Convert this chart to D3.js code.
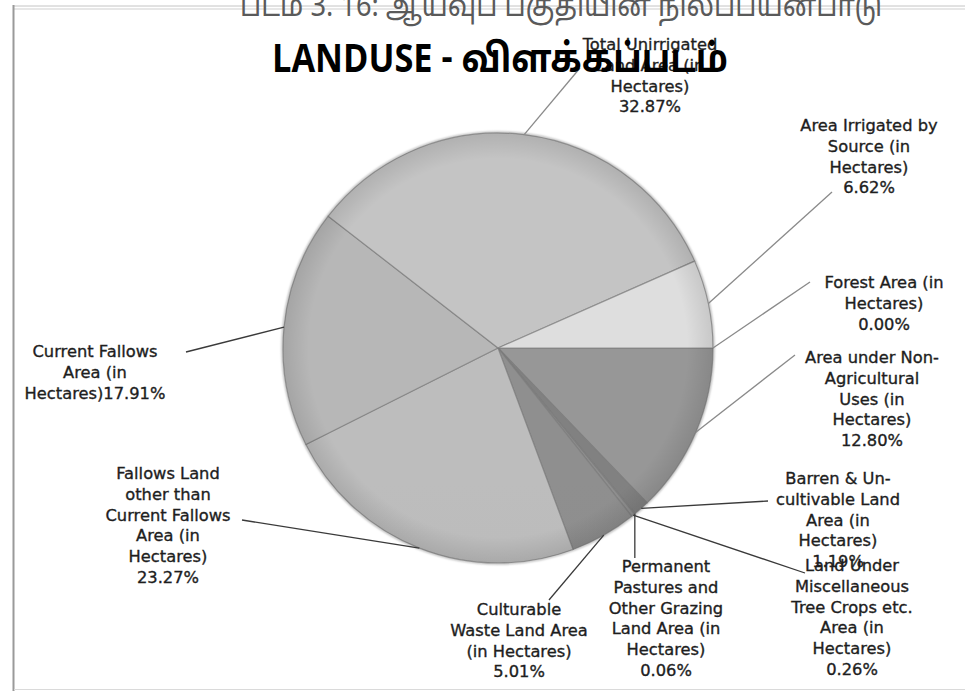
<!DOCTYPE html>
<html>
<head>
<meta charset="utf-8">
<script src="https://cdn.jsdelivr.net/npm/d3@7"></script>
<style>
  html, body { margin: 0; padding: 0; background: #fff; }
  svg { display: block; }
</style>
</head>
<body>
<svg id="chart" width="965" height="691"></svg>
<script>
// ---------- DATA ----------
const categories = [
  "Forest Area (in Hectares)",
  "Area under Non-Agricultural Uses (in Hectares)",
  "Barren & Un-cultivable Land Area (in Hectares)",
  "Permanent Pastures and Other Grazing Land Area (in Hectares)",
  "Land Under Miscellaneous Tree Crops etc. Area (in Hectares)",
  "Culturable Waste Land Area (in Hectares)",
  "Fallows Land other than Current Fallows Area (in Hectares)",
  "Current Fallows Area (in Hectares)",
  "Total Unirrigated Land Area (in Hectares)",
  "Area Irrigated by Source (in Hectares)"
];
const values = [0.00, 12.80, 1.19, 0.06, 0.26, 5.01, 23.27, 17.91, 32.87, 6.62];
const labelLines = [
  ["Forest Area (in", "Hectares)", "{p}"],
  ["Area under Non-", "Agricultural", "Uses (in", "Hectares)", "{p}"],
  ["Barren & Un-", "cultivable  Land", "Area (in", "Hectares)", "{p}"],
  ["Permanent", "Pastures and", "Other Grazing", "Land Area (in", "Hectares)", "{p}"],
  ["Land Under", "Miscellaneous", "Tree Crops etc.", "Area (in", "Hectares)", "{p}"],
  ["Culturable", "Waste Land Area", "(in Hectares)", "{p}"],
  ["Fallows Land", "other than", "Current Fallows", "Area (in", "Hectares)", "{p}"],
  ["Current Fallows", "Area (in", "Hectares){p}"],
  ["Total Unirrigated", "Land Area (in", "Hectares)", "{p}"],
  ["Area Irrigated by", "Source (in", "Hectares)", "{p}"]
];
const chartTitle = "LANDUSE - விளக்கப்படம்";
const figureCaption = "படம் 3. 16: ஆய்வுப் பகுதியின் நிலப்பயன்பாடு";

// ---------- STYLE / LAYOUT ----------
const sliceColors = ["#c8c8c8", "#929292", "#7c7c7c", "#8a8a8a", "#8a8a8a", "#8a8a8a", "#b6b6b6", "#b1b1b1", "#bdbdbd", "#d6d6d6"];
// label anchor (center x, first baseline y) and leader-line end point
const labelLayout = [
  {x: 884, y: 288, ex: 810, ey: 282},
  {x: 872, y: 363, ex: 795, ey: 355},
  {x: 838, y: 484, ex: 768, ey: 501},
  {x: 666, y: 572, ex: null, ey: 558},
  {x: 852, y: 571, ex: 805, ey: 573},
  {x: 519, y: 615, ex: 549, ey: 600},
  {x: 168, y: 479, ex: 242, ey: 520},
  {x: 95,  y: 357, ex: 186, ey: 352},
  {x: 650, y: 50,  ex: 580, ey: 68},
  {x: 869, y: 131, ex: 832, ey: 192}
];
const cx = 498, cy = 348, R = 215;
const lineH = 20.8;

const svg = d3.select("#chart");
const defs = svg.append("defs");

// frame
svg.append("line").attr("x1", 14).attr("x2", 965).attr("y1", 6).attr("y2", 6).attr("stroke", "#c4c4c4").attr("stroke-width", 1);
svg.append("line").attr("x1", 14).attr("x2", 965).attr("y1", 9).attr("y2", 9).attr("stroke", "#cfcfcf").attr("stroke-width", 1);
svg.append("line").attr("x1", 13.5).attr("x2", 13.5).attr("y1", 5).attr("y2", 691).attr("stroke", "#9a9a9a").attr("stroke-width", 2);
svg.append("line").attr("x1", 14).attr("x2", 965).attr("y1", 689.5).attr("y2", 689.5).attr("stroke", "#dadada").attr("stroke-width", 1);

// caption (cut off at top)
svg.append("text")
  .attr("x", 240).attr("y", 16)
  .attr("textLength", 642).attr("lengthAdjust", "spacingAndGlyphs")
  .attr("font-family", "'Noto Sans Tamil', 'Latha', 'Noto Sans', sans-serif")
  .attr("font-size", 31)
  .attr("fill", "#5a5a5a")
  .text(figureCaption);

// gradients
const col = d3.scaleOrdinal().domain(categories).range(sliceColors);
categories.forEach((c, i) => {
  const base = d3.color(col(c));
  const g = defs.append("linearGradient")
    .attr("id", "g" + i)
    .attr("gradientUnits", "userSpaceOnUse")
    .attr("x1", 0).attr("x2", 0).attr("y1", cy - R).attr("y2", cy + R);
  g.append("stop").attr("offset", 0).attr("stop-color", base.brighter(0.1));
  g.append("stop").attr("offset", 0.45).attr("stop-color", base.brighter(0.06));
  g.append("stop").attr("offset", 1).attr("stop-color", base.darker(0.16));
});
const rg = defs.append("radialGradient").attr("id", "rim")
  .attr("gradientUnits", "userSpaceOnUse").attr("cx", cx).attr("cy", cy).attr("r", R);
rg.append("stop").attr("offset", 0.88).attr("stop-color", "#000").attr("stop-opacity", 0);
rg.append("stop").attr("offset", 1).attr("stop-color", "#000").attr("stop-opacity", 0.1);
defs.append("filter").attr("id", "soft").append("feGaussianBlur").attr("stdDeviation", 1);

const pie = d3.pie().sort(null).value(d => d)
  .startAngle(Math.PI / 2).endAngle(Math.PI / 2 + 2 * Math.PI);
const arcs = pie(values);
const arc = d3.arc().innerRadius(0).outerRadius(R);
const edgeArc = d3.arc().innerRadius(R).outerRadius(R);

const gPie = svg.append("g").attr("transform", `translate(${cx},${cy})`);
gPie.append("circle").attr("r", R + 0.5).attr("fill", "none").attr("stroke", "#b0b0b0")
  .attr("stroke-width", 2).attr("filter", "url(#soft)");
gPie.selectAll("path.slice").data(arcs).join("path")
  .attr("class", "slice")
  .attr("d", arc)
  .attr("fill", (d, i) => `url(#g${i})`)
  .attr("stroke", "#7a7a7a")
  .attr("stroke-opacity", 0.7)
  .attr("stroke-width", 1.2);
svg.append("circle").attr("cx", cx).attr("cy", cy).attr("r", R).attr("fill", "url(#rim)");

// leader lines
const gLab = svg.append("g");
arcs.forEach((d, i) => {
  const p = edgeArc.centroid(d);
  const sx = cx + p[0], sy = cy + p[1];
  const L = labelLayout[i];
  const ex = L.ex === null ? sx : L.ex;
  gLab.append("line")
    .attr("x1", sx).attr("y1", sy).attr("x2", ex).attr("y2", L.ey)
    .attr("stroke", i >= 2 && i <= 7 ? "#3a3a3a" : "#8a8a8a")
    .attr("stroke-width", 1.3);
});

// labels
const fmt = d3.format(".2f");
arcs.forEach((d, i) => {
  const L = labelLayout[i];
  const t = gLab.append("text")
    .attr("text-anchor", "middle")
    .attr("font-family", "'DejaVu Sans', Verdana, sans-serif")
    .attr("font-size", 16.3)
    .attr("fill", "#1e1e1e")
    .attr("stroke", "#1e1e1e")
    .attr("stroke-width", 0.35);
  labelLines[i].forEach((ln, k) => {
    t.append("tspan").attr("x", L.x).attr("y", L.y + k * lineH)
      .text(ln.replace("{p}", fmt(d.data) + "%"));
  });
});

// title
svg.append("text")
  .attr("x", 272).attr("y", 72)
  .attr("textLength", 456).attr("lengthAdjust", "spacingAndGlyphs")
  .attr("font-family", "'Liberation Sans Narrow', 'Noto Sans Tamil', 'Noto Sans', sans-serif")
  .attr("font-weight", "bold")
  .attr("font-size", 39)
  .attr("fill", "#000")
  .text(chartTitle);
</script>
</body>
</html>
